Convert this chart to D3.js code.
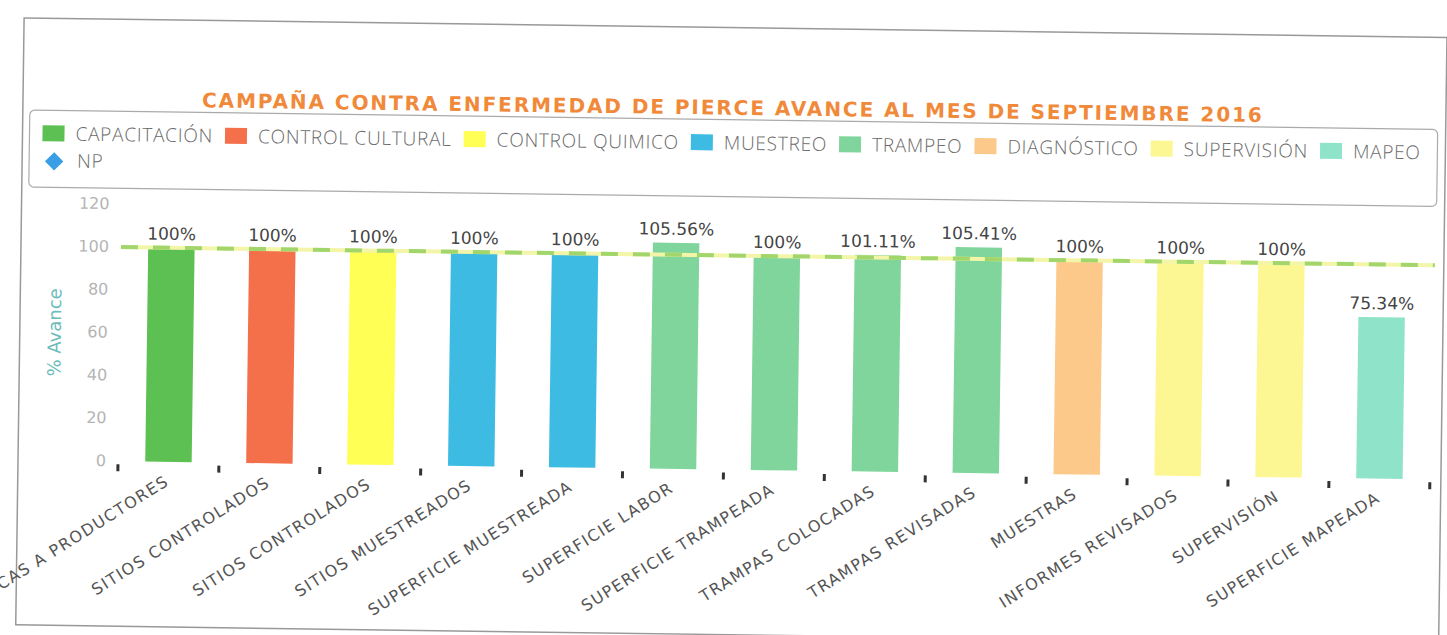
<!DOCTYPE html>
<html>
<head>
<meta charset="utf-8">
<script src="https://cdn.jsdelivr.net/npm/d3@7"></script>
<style>
    body { margin: 0; background: #fff; }
    text { font-family: "DejaVu Sans", sans-serif; }
    .legend text { font-family: "Open Sans", sans-serif; font-weight: 300; }
</style>
</head>
<body>
<svg id="chart" width="1447" height="635"></svg>
<script>
// datos
const categories = ["PLÁTICAS A PRODUCTORES", "SITIOS CONTROLADOS", "SITIOS CONTROLADOS",
    "SITIOS MUESTREADOS", "SUPERFICIE MUESTREADA", "SUPERFICIE LABOR", "SUPERFICIE TRAMPEADA",
    "TRAMPAS COLOCADAS", "TRAMPAS REVISADAS", "MUESTRAS", "INFORMES REVISADOS",
    "SUPERVISIÓN", "SUPERFICIE MAPEADA"];
const avance = [100, 100, 100, 100, 100, 105.56, 100, 101.11, 105.41, 100, 100, 100, 75.34];
const grupo = ["CAPACITACIÓN", "CONTROL CULTURAL", "CONTROL QUIMICO", "MUESTREO", "MUESTREO",
    "TRAMPEO", "TRAMPEO", "TRAMPEO", "TRAMPEO", "DIAGNÓSTICO", "SUPERVISIÓN", "SUPERVISIÓN", "MAPEO"];
const series = ["CAPACITACIÓN", "CONTROL CULTURAL", "CONTROL QUIMICO", "MUESTREO", "TRAMPEO",
    "DIAGNÓSTICO", "SUPERVISIÓN", "MAPEO"];
const seriesColors = ["#5cc152", "#f4704a", "#ffff55", "#3dbbe3", "#80d59c", "#fdc98a", "#fcf792", "#8ee3c9"];
const meta = 100;
const yTicks = [0, 20, 40, 60, 80, 100, 120];

const svg = d3.select("#chart");
// la hoja escaneada esta un poco girada
const page = svg.append("g").attr("transform", "rotate(0.79, 100, 461)");

page.append("rect")
    .attr("x", 18).attr("y", 19)
    .attr("width", 1423).attr("height", 607)
    .attr("fill", "none").attr("stroke", "#999").attr("stroke-width", 1.5);

let color = d3.scaleOrdinal().domain(series).range(seriesColors);

let x = d3.scaleBand()
    .domain(d3.range(categories.length))
    .range([118, 1430])
    .paddingInner(0.54)
    .paddingOuter(0.27);

let y = d3.scaleLinear().domain([0, 120]).range([461, 204]);

// titulo
page.append("text")
    .attr("x", 727).attr("y", 106)
    .attr("text-anchor", "middle")
    .attr("font-size", 20).attr("font-weight", "bold")
    .attr("fill", "#f08a3a")
    .attr("textLength", 1060).attr("lengthAdjust", "spacing")
    .text("CAMPAÑA CONTRA ENFERMEDAD DE PIERCE AVANCE AL MES DE SEPTIEMBRE 2016");

// leyenda
let legend = page.append("g").attr("class", "legend");
legend.append("rect")
    .attr("x", 25).attr("y", 111)
    .attr("width", 1408).attr("height", 77)
    .attr("rx", 5)
    .attr("fill", "none").attr("stroke", "#aaa").attr("stroke-width", 1.2);

let lx = 38;
series.forEach((s, i) => {
    legend.append("rect")
        .attr("x", lx).attr("y", 126)
        .attr("width", 22).attr("height", 16)
        .attr("fill", color(s));
    let t = legend.append("text")
        .attr("x", lx + 33).attr("y", 141)
        .attr("font-size", 19).attr("letter-spacing", 0.75)
        .attr("fill", "#6a6a6a")
        .text(s);
    lx += 33 + t.node().getComputedTextLength() + 12;
});
legend.append("rect")
    .attr("x", -6.5).attr("y", -6.5)
    .attr("width", 13).attr("height", 13)
    .attr("transform", "translate(50,162) rotate(45)")
    .attr("fill", "#3a9ee6");
legend.append("text")
    .attr("x", 73).attr("y", 168)
    .attr("font-size", 19).attr("letter-spacing", 0.75)
    .attr("fill", "#6a6a6a")
    .text("NP");

// eje y
let yAxis = page.append("g");
yAxis.selectAll("text")
    .data(yTicks)
    .enter()
    .append("text")
    .attr("x", 106)
    .attr("y", d => y(d) + 5)
    .attr("text-anchor", "end")
    .attr("font-size", 16)
    .attr("fill", "#b4b4b4")
    .text(d => d);
page.append("text")
    .attr("transform", "translate(59, 333) rotate(-90)")
    .attr("text-anchor", "middle")
    .attr("font-size", 18)
    .attr("fill", "#6cbcbc")
    .text("% Avance");

// barras
page.selectAll(".bar")
    .data(avance)
    .enter()
    .append("rect")
    .attr("class", "bar")
    .attr("x", (d, i) => x(i))
    .attr("y", d => y(d))
    .attr("width", x.bandwidth())
    .attr("height", d => y(0) - y(d))
    .attr("fill", (d, i) => color(grupo[i]));

// linea de meta
page.append("line")
    .attr("x1", 118).attr("x2", 1432)
    .attr("y1", y(meta)).attr("y2", y(meta))
    .attr("stroke", "#f3f5a8").attr("stroke-width", 4);
page.append("line")
    .attr("x1", 118).attr("x2", 1432)
    .attr("y1", y(meta)).attr("y2", y(meta))
    .attr("stroke", "#a2d56c").attr("stroke-width", 4)
    .attr("stroke-dasharray", "17,15");

// etiquetas de valor
page.selectAll(".val")
    .data(avance)
    .enter()
    .append("text")
    .attr("class", "val")
    .attr("x", (d, i) => x(i) + x.bandwidth() / 2)
    .attr("y", d => y(d) - 8)
    .attr("text-anchor", "middle")
    .attr("font-size", 17)
    .attr("fill", "#444")
    .text(d => d + "%");

// marcas del eje x
let step = x.step();
let edges = d3.range(categories.length + 1).map(i => x.range()[0] + i * step);
page.selectAll(".tick")
    .data(edges)
    .enter()
    .append("rect")
    .attr("class", "tick")
    .attr("x", d => d - 1.5)
    .attr("y", y(0) + 3)
    .attr("width", 3).attr("height", 7)
    .attr("fill", "#333");

// etiquetas del eje x
page.selectAll(".cat")
    .data(categories)
    .enter()
    .append("text")
    .attr("class", "cat")
    .attr("transform", (d, i) => `translate(${x(i) + x.bandwidth() / 2 + 2}, ${y(0) + 22}) rotate(-33)`)
    .attr("text-anchor", "end")
    .attr("font-size", 16)
    .attr("letter-spacing", 1.4)
    .attr("fill", "#555")
    .text(d => d);
</script>
</body>
</html>
